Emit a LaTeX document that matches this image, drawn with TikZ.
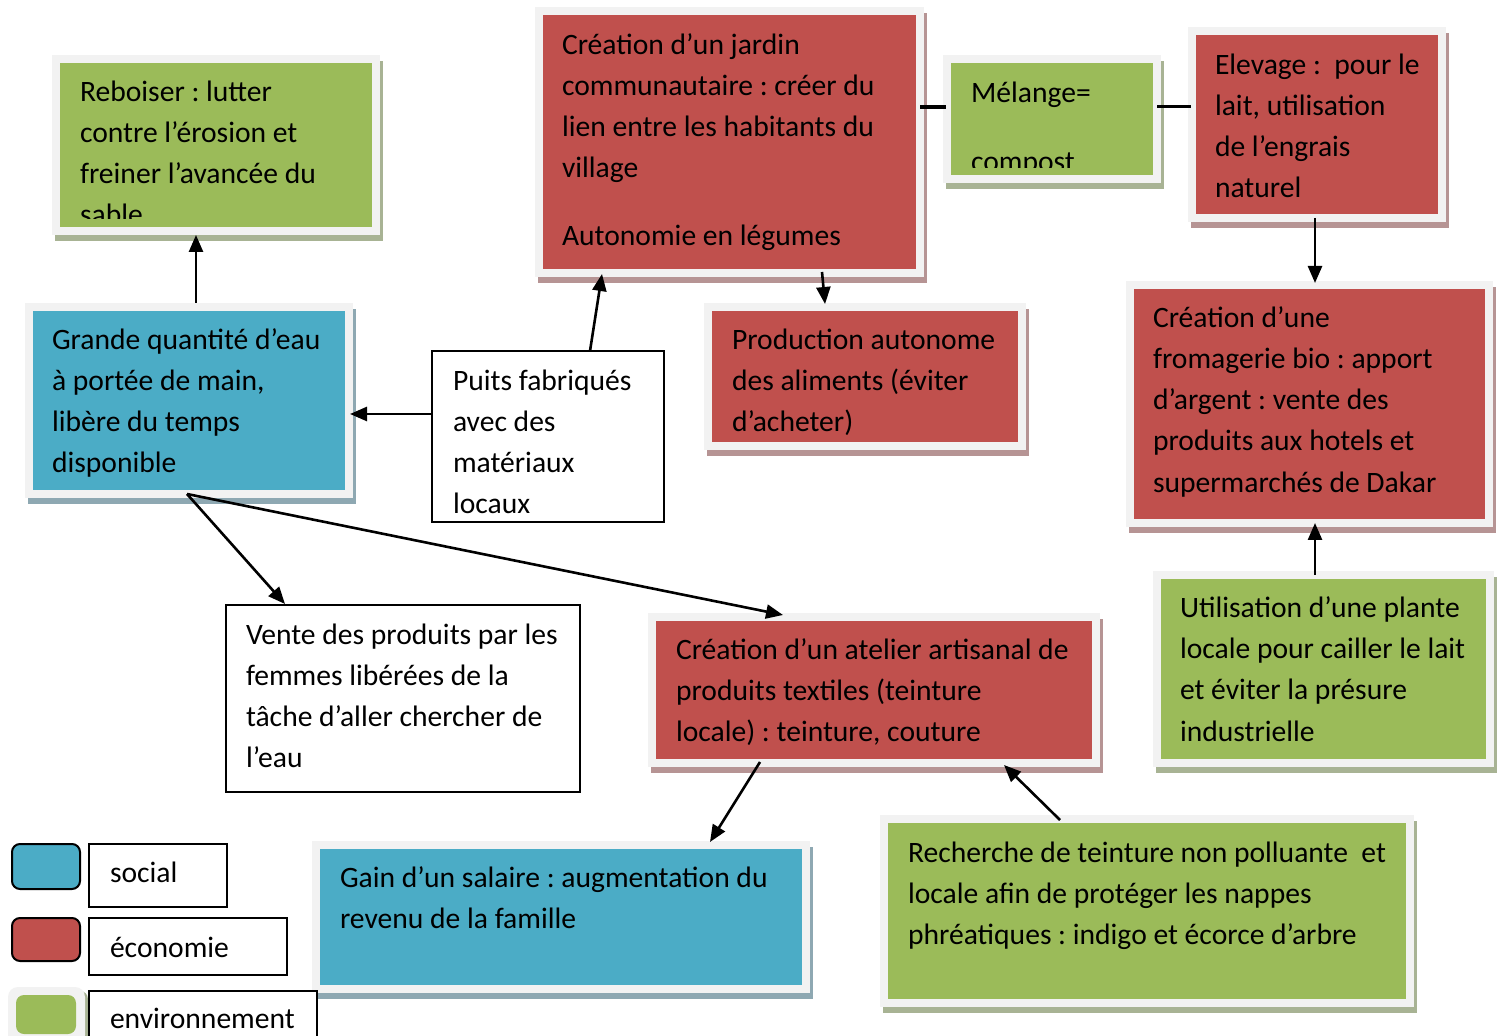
\documentclass[tikz,border=0pt]{standalone}
\usepackage{fontspec}
\setmainfont{Carlito}
\frenchspacing
\usetikzlibrary{arrows.meta,fit,calc}
\definecolor{cblue}{HTML}{4BACC6}
\definecolor{cred}{HTML}{C0504D}
\definecolor{cgreen}{HTML}{9BBB59}
\definecolor{framegray}{HTML}{F2F2F2}
\definecolor{shred}{HTML}{B69494}
\definecolor{shgreen}{HTML}{A8B394}
\definecolor{shblue}{HTML}{8EA8B2}
\newcommand\lines[1]{\begin{tabular}[t]{@{}l@{}}#1\end{tabular}}
\newcommand\cbox[7]{%
  \fill[#7] (#2+3,#3+6) rectangle (#4+3,#5+6);
  \node[frame, fit={(#2,#3)(#4,#5)}] (#1) {};
  \fill[#6] (#2+8,#3+8) rectangle (#4-8,#5-8);
}
\tikzset{
  frame/.style={fill=framegray, inner sep=0pt, outer sep=0pt},
  plainbox/.style={draw=black, line width=1pt, fill=white, inner sep=0pt, outer sep=0pt},
  txt/.style={anchor=base west, inner sep=0pt, outer sep=0pt, yshift=-1.2pt, font=\fontsize{14.8}{20.6}\selectfont\frenchspacing},
  arr/.style={-{Triangle[length=8.5pt,width=7pt]}, line width=1.3pt},
  link/.style={line width=1.5pt},
}
\begin{document}
\begin{tikzpicture}[x=0.5pt, y=-0.5pt]
\clip (0,0) rectangle (1503,1036);
\fill[white] (0,0) rectangle (1503,1036);

% coloured boxes
\cbox{reb}{52}{55}{380}{235}{cgreen}{shgreen}
\cbox{jar}{535}{7}{924}{277}{cred}{shred}
\cbox{mel}{943}{55}{1161}{183}{cgreen}{shgreen}
\cbox{ele}{1188}{27}{1446}{222}{cred}{shred}
\cbox{gra}{25}{303}{353}{498}{cblue}{shblue}
\cbox{prod}{704}{303}{1026}{450}{cred}{shred}
\cbox{fro}{1126}{281}{1493}{527}{cred}{shred}
\cbox{ate}{648}{613}{1100}{767}{cred}{shred}
\cbox{uti}{1153}{571}{1494}{767}{cgreen}{shgreen}
\cbox{gain}{312}{841}{810}{993}{cblue}{shblue}
\cbox{rec}{880}{815}{1414}{1007}{cgreen}{shgreen}

% white boxes
\node[plainbox, fit={(432,351)(664,522)}] (puits) {};
\node[plainbox, fit={(226,605)(580,792)}] (ven) {};

% texts
\begin{scope}
\clip (60,63) rectangle (372,219);
\node[txt] (treb) at (80,99) {\lines{Reboiser : lutter\\contre l’érosion et\\freiner l’avancée du\\sable}};
\end{scope}
\node[txt] (tjar) at (562,52) {\lines{Création d’un jardin\\communautaire : créer du\\lien entre les habitants du\\village}};
\node[txt] (tjar2) at (562,243) {Autonomie en légumes};
\node[txt] (tmel) at (971,100) {Mélange=};
\begin{scope}
\clip (950,63) rectangle (1153,168);
\node[txt] (tmel2) at (971,169) {compost};
\end{scope}
\node[txt] (tele) at (1215,72) {\lines{Elevage :~ pour le\\lait, utilisation\\de l’engrais\\naturel}};
\node[txt] (tgra) at (52,347) {\lines{Grande quantité d’eau\\à portée de main,\\libère du temps\\disponible}};
\node[txt] (tpuits) at (453,388) {\lines{Puits fabriqués\\avec des\\matériaux\\locaux}};
\node[txt] (tprod) at (732,347) {\lines{Production autonome\\des aliments (éviter\\d’acheter)}};
\node[txt] (tfro) at (1153,325) {\lines{Création d’une\\fromagerie bio : apport\\d’argent : vente des\\produits aux hotels et\\supermarchés de Dakar}};
\node[txt] (tven) at (246,642) {\lines{Vente des produits par les\\femmes libérées de la\\tâche d’aller chercher de\\l’eau}};
\node[txt] (tate) at (676,657) {\lines{Création d’un atelier artisanal de\\produits textiles (teinture\\locale) : teinture, couture}};
\node[txt] (tuti) at (1180,615) {\lines{Utilisation d’une plante\\locale pour cailler le lait\\et éviter la présure\\industrielle}};
\node[txt] (tgain) at (340,885) {\lines{Gain d’un salaire : augmentation du\\revenu de la famille}};
\node[txt] (trec) at (908,860) {\lines{Recherche de teinture non polluante~ et\\locale afin de protéger les nappes\\phréatiques : indigo et écorce d’arbre}};

% connectors
\draw[arr] ($(gra.north west)+(171,0)$) -- ($(reb.south west)+(144,0)$);
\draw[arr] ($(puits.north west)+(158,0)$) -- ($(jar.south west)+(67,-3)$);
\draw[arr] ($(puits.north west)+(0,63)$) -- ($(gra.north east)+(-3,111)$);
\draw[arr] ($(jar.south west)+(287,-5)$) -- ($(prod.north west)+(121,1)$);
\draw[line width=2.2pt] ($(jar.north east)+(-4,100)$) -- ($(mel.north west)+(3,52)$);
\draw[link] ($(mel.north east)+(-4,52)$) -- ($(ele.north west)+(3,80)$);
\draw[arr] ($(ele.south west)+(127,-4)$) -- ($(fro.north west)+(189,2)$);
\draw[arr] ($(uti.north west)+(162,4)$) -- ($(fro.south west)+(189,-4)$);
\draw[arr] ($(gra.south west)+(162,-4)$) -- ($(ven.north west)+(59,-1)$);
\draw[arr] ($(gra.south west)+(162,-4)$) -- ($(ate.north west)+(135,2)$);
\draw[arr] ($(ate.south west)+(112,-5)$) -- ($(gain.north west)+(398,1)$);
\draw[arr] ($(rec.north west)+(180,5)$) -- ($(ate.south west)+(356,-2)$);

% legend
\node[draw=black, line width=1pt, fill=cblue, rounded corners=4pt, inner sep=0pt, fit={(12,844)(80,889)}] (lblue) {};
\node[draw=black, line width=1pt, fill=cred, rounded corners=4pt, inner sep=0pt, fit={(12,918)(80,961)}] (lred) {};
\fill[shgreen, rounded corners=4pt] (11,991) rectangle (88,1045);
\node[fill=framegray, rounded corners=5pt, inner sep=0pt, fit={(8,987)(85,1045)}] (lgreen) {};
\fill[cgreen, rounded corners=4pt] (16,995) rectangle (76,1034);
\node[plainbox, fit={(89,844)(227,907)}] (bsoc) {};
\node[plainbox, fit={(89,918)(287,975)}] (beco) {};
\node[plainbox, fit={(89,991)(317,1050)}] (benv) {};
\node[txt] (tsoc) at (110,880) {social};
\node[txt] (teco) at (110,955) {économie};
\node[txt] (tenv) at (110,1026) {environnement};
\end{tikzpicture}
\end{document}
